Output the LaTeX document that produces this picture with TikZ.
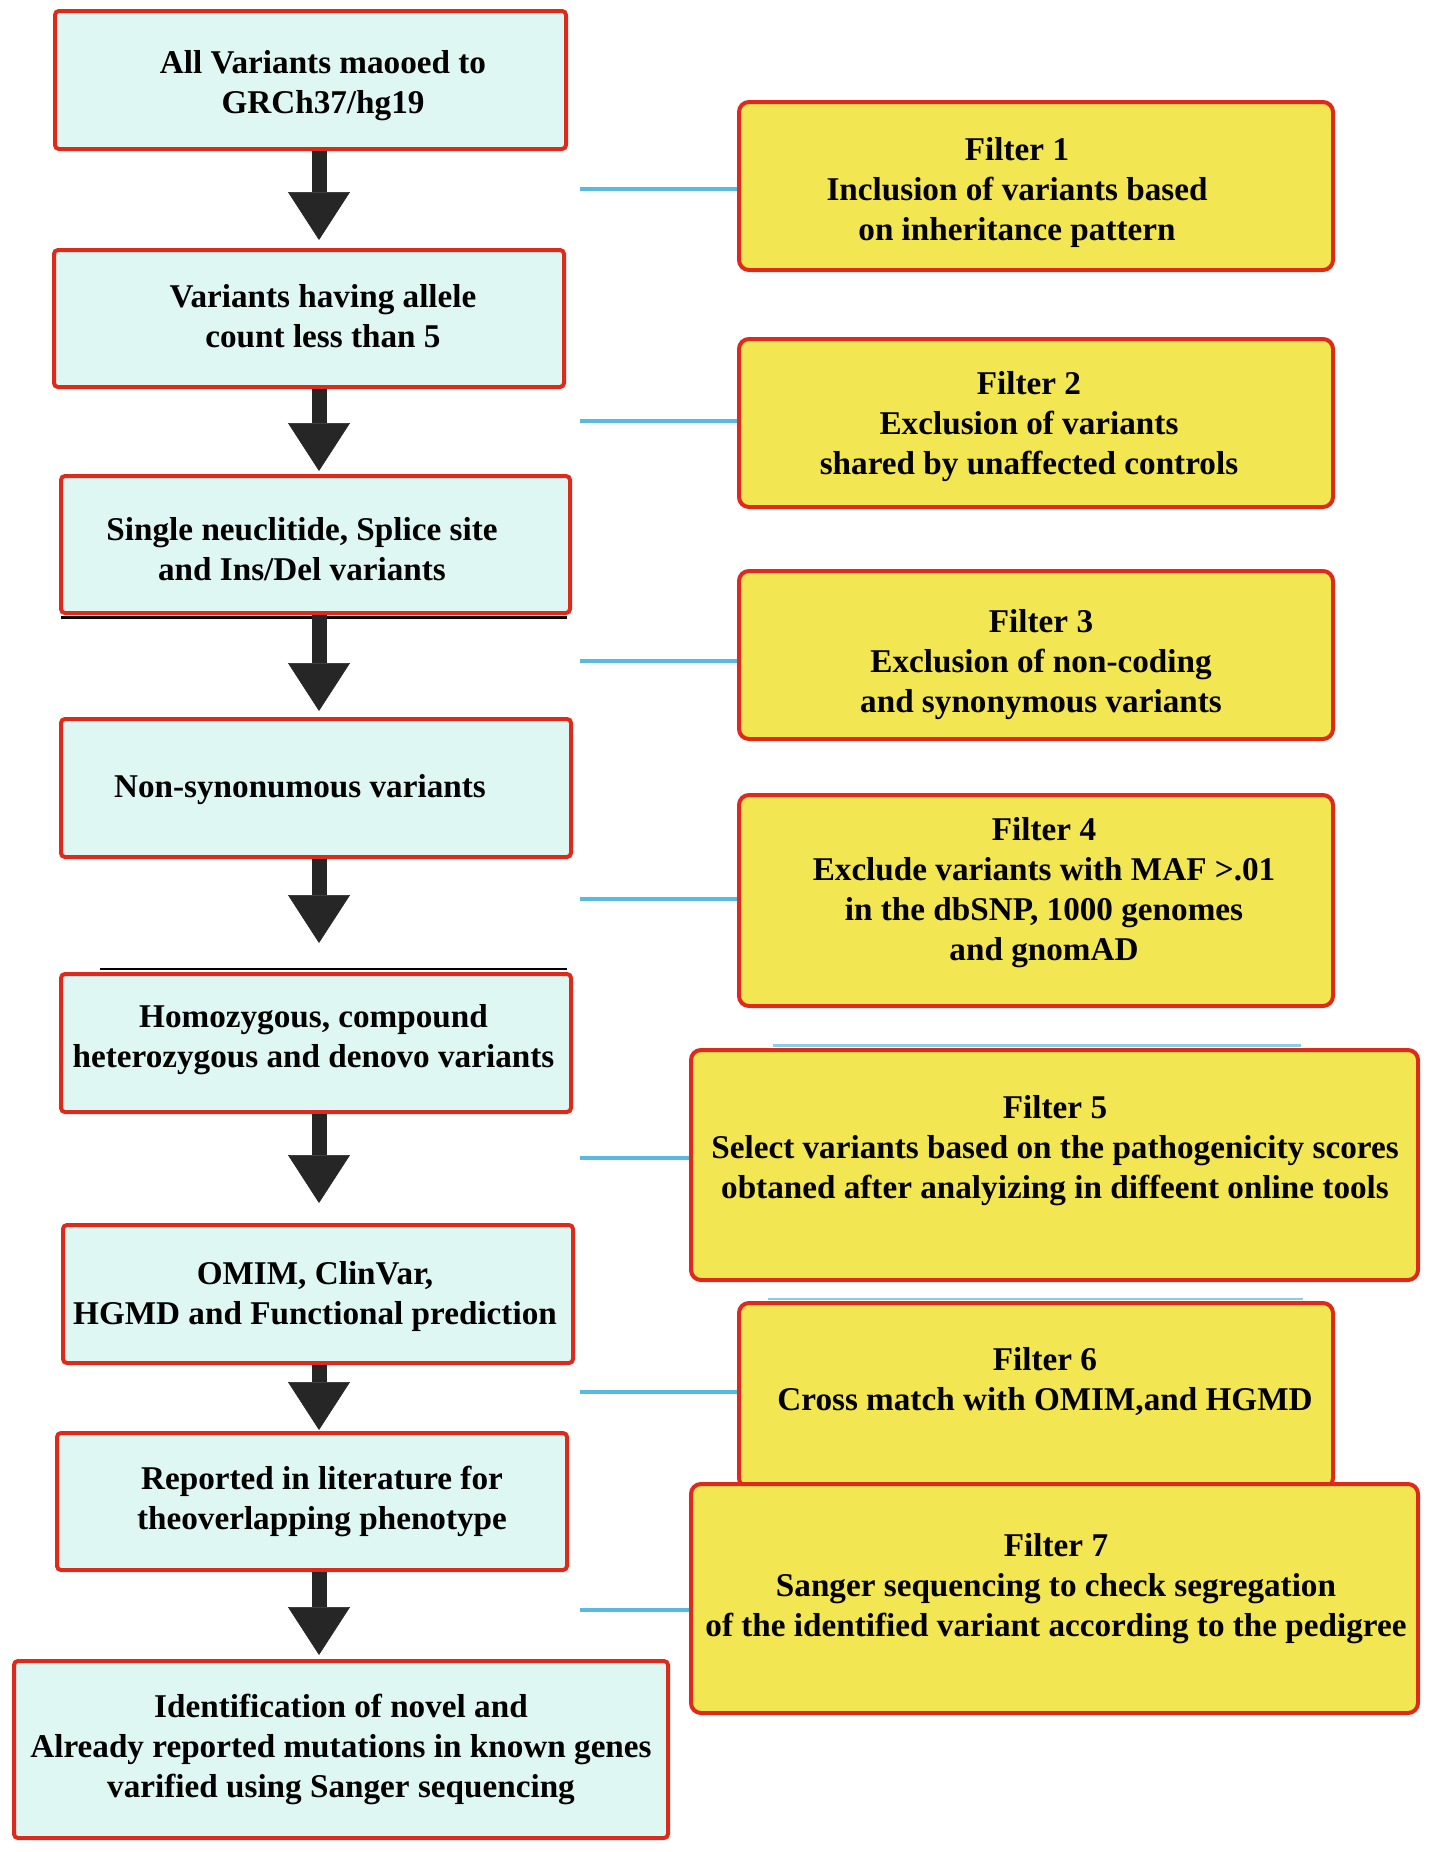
\documentclass[tikz,border=0pt]{standalone}
\usepackage{fontspec}
\setmainfont{Liberation Serif}
\usetikzlibrary{arrows.meta}
\definecolor{redb}{HTML}{DD2A1B}
\definecolor{cyanf}{HTML}{DFF7F3}
\definecolor{yelf}{HTML}{F2E653}
\definecolor{arr}{HTML}{262626}
\definecolor{bluel}{HTML}{5AB9DE}
\definecolor{bluep}{HTML}{8CCDE6}
\begin{document}
\begin{tikzpicture}[x=0.5pt,y=-0.5pt,
  lbox/.style={draw=redb, fill=cyanf, line width=2pt, rounded corners=2pt, inner sep=0pt},
  fbox/.style={draw=redb, fill=yelf, line width=2pt, rounded corners=5pt, inner sep=0pt},
  txt/.style={font=\fontsize{16.6}{20}\selectfont\bfseries, align=center, inner sep=0pt, yshift=-1.75pt},
  flow/.style={draw=arr, line width=7.5pt, -{Triangle[width=31pt,length=24pt,line width=0.3pt]}},
  link/.style={draw=bluel, line width=2pt},
  peek/.style={draw=bluep, line width=1.3pt},
  baseline/.style={draw=black, line width=1.3pt}]
\useasboundingbox[fill=white] (0,0) rectangle (1429,1852);

% left boxes
\node[lbox, minimum width=255.5pt, minimum height=69pt] (b1) at (310.5,80) {};
\node[lbox, minimum width=255pt, minimum height=68.5pt] (b2) at (309,318.5) {};
\node[lbox, minimum width=254.5pt, minimum height=68.5pt] (b3) at (315.5,544.5) {};
\node[lbox, minimum width=255pt, minimum height=69pt] (b4) at (316,788) {};
\node[lbox, minimum width=255pt, minimum height=69pt] (b5) at (316,1043) {};
\node[lbox, minimum width=255pt, minimum height=69pt] (b6) at (318,1294) {};
\node[lbox, minimum width=255pt, minimum height=68.5pt] (b7) at (312,1501.5) {};
\node[lbox, minimum width=327pt, minimum height=88.5pt] (b8) at (341,1749.5) {};

\draw[baseline] (61,617.5) -- (567,617.5);
\draw[baseline] (100,969) -- (567,969);

% texts of left boxes
\node[txt] (t1) at (323,82.5) {All Variants maooed to\\GRCh37/hg19};
\node[txt] (t2) at (323,313) {Variants having allele\\count less than 5};
\node[txt] (t3) at (302,546) {Single neuclitide, Splice site\\and Ins/Del variants};
\node[txt] (t4) at (300,786.5) {Non-synonumous variants};
\node[txt] (t5) at (313.5,1036) {Homozygous, compound\\heterozygous and denovo variants};
\node[txt] (t6) at (315,1293) {OMIM, ClinVar,\\HGMD and Functional prediction};
\node[txt] (t7) at (322,1498) {Reported in literature for\\theoverlapping phenotype};
\node[txt] (t8) at (341,1746) {Identification of novel and\\Already reported mutations in known genes\\varified using Sanger sequencing};

% filter boxes
\node[fbox, minimum width=297pt, minimum height=84pt] (f1) at (1036,186) {};
\node[fbox, minimum width=297pt, minimum height=84pt] (f2) at (1036,423) {};
\node[fbox, minimum width=297pt, minimum height=84pt] (f3) at (1036,655) {};
\node[fbox, minimum width=297pt, minimum height=105.5pt] (f4) at (1036,900.5) {};
\draw[peek] (773,1045.5) -- (1301,1045.5);
\node[fbox, minimum width=363.5pt, minimum height=115pt] (f5) at (1054.5,1165) {};
\draw[peek] (768,1299) -- (1303,1299);
\node[fbox, minimum width=297pt, minimum height=92.5pt] (f6) at (1036,1395.5) {};
\node[fbox, minimum width=363.5pt, minimum height=114.5pt] (f7) at (1054.5,1598.5) {};

\node[txt] (tf1) at (1017,189) {Filter 1\\Inclusion of variants based\\on inheritance pattern};
\node[txt] (tf2) at (1029,423) {Filter 2\\Exclusion of variants\\shared by unaffected controls};
\node[txt] (tf3) at (1041,661) {Filter 3\\Exclusion of non-coding\\and synonymous variants};
\node[txt] (tf4) at (1044,889) {Filter 4\\Exclude variants with MAF >.01\\in the dbSNP, 1000 genomes\\and gnomAD};
\node[txt] (tf5) at (1055,1147) {Filter 5\\Select variants based on the pathogenicity scores\\obtaned after analyizing in diffeent online tools};
\node[txt] (tf6) at (1045,1378) {Filter 6\\Cross match with OMIM,and HGMD};
\node[txt] (tf7) at (1056,1585.5) {Filter 7\\Sanger sequencing to check segregation\\of the identified variant according to the pedigree};

% flow arrows
\coordinate (ax) at (319,0);
\draw[flow, shorten >=4pt] (b1.south -| ax) -- (b2.north -| ax);
\draw[flow, shorten >=1.5pt] (b2.south -| ax) -- (b3.north -| ax);
\draw[flow, shorten >=3pt] (b3.south -| ax) -- (b4.north -| ax);
\draw[flow, shorten >=14.5pt] (b4.south -| ax) -- (b5.north -| ax);
\draw[flow, shorten >=10pt] (b5.south -| ax) -- (b6.north -| ax);
\draw[flow, shorten >=0.5pt] (b6.south -| ax) -- (b7.north -| ax);
\draw[flow, shorten >=2pt] (b7.south -| ax) -- (b8.north -| ax);

% blue links
\coordinate (c1) at (580,188.5);
\coordinate (c2) at (580,421);
\coordinate (c3) at (580,661);
\coordinate (c4) at (580,898.5);
\coordinate (c5) at (580,1157.5);
\coordinate (c6) at (580,1392);
\coordinate (c7) at (580,1610);
\draw[link] (c1) -- (c1 -| f1.west);
\draw[link] (c2) -- (c2 -| f2.west);
\draw[link] (c3) -- (c3 -| f3.west);
\draw[link] (c4) -- (c4 -| f4.west);
\draw[link] (c5) -- (c5 -| f5.west);
\draw[link] (c6) -- (c6 -| f6.west);
\draw[link] (c7) -- (c7 -| f7.west);
\end{tikzpicture}
\end{document}
